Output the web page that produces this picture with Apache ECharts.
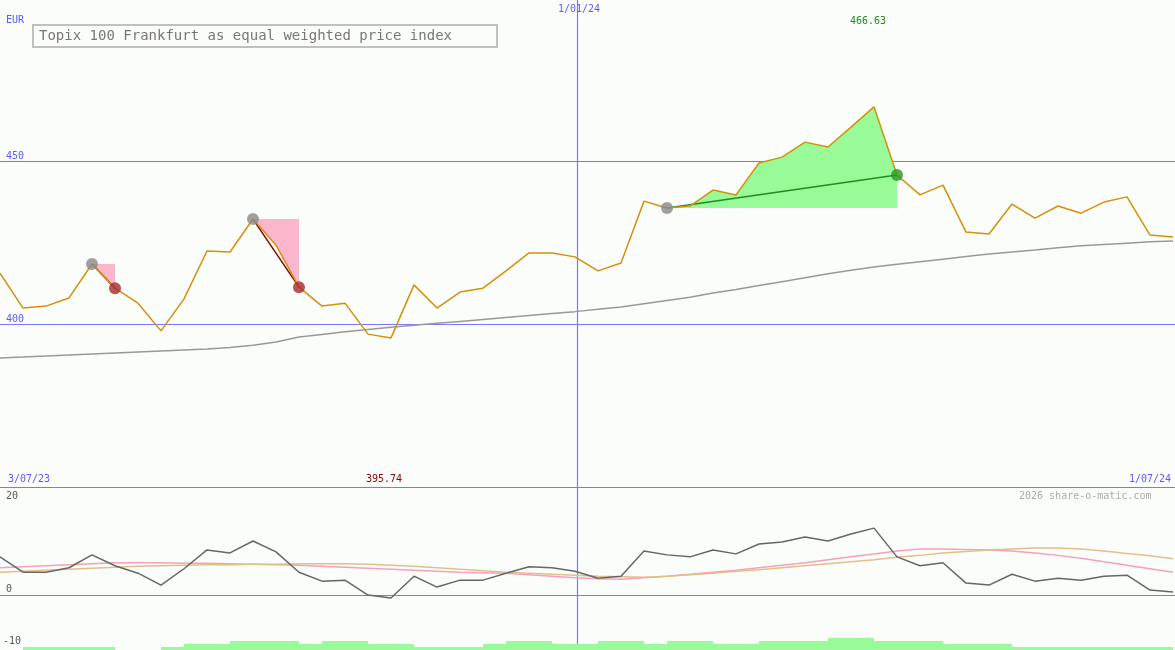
<!DOCTYPE html>
<html><head><meta charset="utf-8">
<script src="https://cdn.jsdelivr.net/npm/echarts@6/dist/echarts.min.js"></script>
<style>html,body{margin:0;padding:0;background:#fbfdfa}#c{width:1175px;height:650px}</style>
</head><body><div id="c"></div>
<script>
const price=[415.6,404.9,405.5,408,418.4,411,406.4,397.9,407.7,422.4,422.1,432.2,424.2,411.3,405.5,406.4,396.9,395.74,412,404.9,409.8,411,416.3,421.8,421.8,420.6,416.3,418.7,437.7,435.6,436.2,441.1,439.6,449.4,451.2,455.8,454.3,460.4,466.63,445.7,439.6,442.6,428.2,427.6,436.8,432.5,436.2,434,437.4,439,427.3,426.7];
const avg=[389.6,389.9,390.2,390.5,390.8,391.1,391.4,391.7,392,392.3,392.8,393.5,394.5,396,396.8,397.6,398.3,399,399.6,400.2,400.8,401.4,402,402.6,403.2,403.8,404.5,405.2,406.2,407.2,408.2,409.5,410.6,411.8,413,414.2,415.4,416.5,417.5,418.3,419.1,419.9,420.7,421.5,422.1,422.7,423.4,424,424.4,424.8,425.2,425.5];
const osc=[7.7,4.6,4.6,5.5,8.1,5.9,4.4,2,5.3,9.1,8.5,10.9,8.7,4.6,2.8,3,0,-0.6,3.8,1.6,3,3,4.4,5.7,5.5,4.8,3.4,3.8,8.9,8.1,7.7,9.1,8.3,10.3,10.7,11.7,10.9,12.3,13.5,7.7,5.9,6.5,2.4,2,4.2,2.8,3.4,3,3.8,4,1,0.6];
const pink=[5.5,5.7,5.9,6.1,6.3,6.5,6.5,6.5,6.4,6.4,6.3,6.2,6.1,6,5.8,5.6,5.4,5.2,5,4.8,4.6,4.5,4.4,4.1,3.8,3.5,3.3,3.2,3.5,3.8,4.2,4.6,5,5.5,6,6.5,7.1,7.7,8.3,8.9,9.3,9.3,9.2,9.1,8.9,8.5,8,7.4,6.7,6,5.3,4.6];
const tan=[4.6,4.8,5,5.2,5.4,5.6,5.8,5.9,6,6.1,6.1,6.2,6.2,6.3,6.3,6.3,6.2,6,5.8,5.5,5.2,4.9,4.6,4.4,4.2,4,3.8,3.7,3.6,3.8,4.1,4.4,4.8,5.1,5.5,5.9,6.3,6.7,7.1,7.6,8,8.5,8.8,9.1,9.3,9.5,9.5,9.3,8.9,8.4,7.9,7.3];
const vol=[0,1,1,1,1,0,0,1,2,2,3,3,3,2,3,3,2,2,1,1,1,2,3,3,2,2,3,3,2,3,3,2,2,3,3,3,4,4,3,3,3,2,2,2,1,1,1,1,1,1,1];
const cats=price.map((_,i)=>i);
function zoneSeries(i0,i1,lvl,color,down){
  const base=cats.map(()=>null), diff=cats.map(()=>null);
  for(let i=i0;i<=i1;i++){
    if(down){base[i]=price[i];diff[i]=lvl-price[i];}
    else{base[i]=lvl;diff[i]=price[i]-lvl;}
  }
  const st='z'+i0;
  return [
    {type:'line',data:base,stack:st,symbol:'none',lineStyle:{opacity:0},silent:true},
    {type:'line',data:diff,stack:st,symbol:'none',lineStyle:{opacity:0},areaStyle:{color:color,opacity:1},silent:true}
  ];
}
function seg(i0,i1,color){
  const d=cats.map(()=>null);d[i0]=price[i0];d[i1]=price[i1];
  return {type:'line',data:d,connectNulls:true,symbol:'none',lineStyle:{color:color,width:1.5},z:4};
}
function dot(i,color){
  return {type:'scatter',data:[[i,price[i]]],symbolSize:12,itemStyle:{color:color},z:6};
}
const blue='#5a5aff';
const lineBlue='#7878ff';
function hline(y){return {type:'line',shape:{x1:0,y1:y,x2:1175,y2:y},style:{stroke:lineBlue,lineWidth:1.2},z:-1};}
const chart=echarts.init(document.getElementById('c'));
chart.setOption({
  backgroundColor:'#fbfdfa',animation:false,
  grid:[{left:0,width:1173,top:0,height:487},{left:0,width:1173,top:487,height:163},{left:0,width:1173,top:638,height:12}],
  xAxis:[
    {type:'category',data:cats,boundaryGap:false,gridIndex:0,show:false},
    {type:'category',data:cats,boundaryGap:false,gridIndex:1,show:false},
    {type:'category',data:vol.map((_,i)=>i),boundaryGap:true,gridIndex:2,show:false}
  ],
  yAxis:[
    {type:'value',min:350,max:499.4,gridIndex:0,show:false},
    {type:'value',min:-11.1,max:21.8,gridIndex:1,show:false},
    {type:'value',min:0,max:4,gridIndex:2,show:false}
  ],
  series:[
    ...zoneSeries(4,5,418.4,'#fbb6cc',true),
    ...zoneSeries(11,13,432.2,'#fbb6cc',true),
    ...zoneSeries(29,39,435.6,'#98fb98',false),
    {type:'line',data:avg,symbol:'none',lineStyle:{color:'#999',width:1.5},z:3},
    {type:'line',data:price,symbol:'none',lineStyle:{color:'#d4900a',width:1.5},z:5},
    seg(4,5,'#8b0000'),seg(11,13,'#8b0000'),seg(29,39,'#228b22'),
    dot(4,'#888'),dot(5,'#a52a2a'),dot(11,'#888'),dot(13,'#a52a2a'),dot(29,'#888'),dot(39,'#229922'),
    {type:'line',xAxisIndex:1,yAxisIndex:1,data:pink,symbol:'none',lineStyle:{color:'#f8a0b8',width:1.5}},
    {type:'line',xAxisIndex:1,yAxisIndex:1,data:tan,symbol:'none',lineStyle:{color:'#dfc08a',width:1.5}},
    {type:'line',xAxisIndex:1,yAxisIndex:1,data:osc,symbol:'none',lineStyle:{color:'#666',width:1.5}},
    {type:'bar',xAxisIndex:2,yAxisIndex:2,data:vol,barWidth:'100%',barCategoryGap:0,itemStyle:{color:'#98fb98'}}
  ],
  graphic:[
    hline(161.5),hline(324.5),hline(487.5),hline(595.5),
    {type:'line',shape:{x1:577.5,y1:0,x2:577.5,y2:650},style:{stroke:lineBlue,lineWidth:1.2},z:-1},
    {type:'rect',shape:{x:33,y:25,width:464,height:22},style:{fill:'#fbfdfa',stroke:'#c0c0c0',lineWidth:2}},
    {type:'text',x:39,y:29,style:{text:'Topix 100 Frankfurt as equal weighted price index',fill:'#777',font:'14px "DejaVu Sans Mono"'}},
    {type:'text',x:6,y:15,style:{text:'EUR',fill:blue,font:'10px "DejaVu Sans Mono"'}},
    {type:'text',x:558,y:4,style:{text:'1/01/24',fill:blue,font:'10px "DejaVu Sans Mono"'}},
    {type:'text',x:850,y:16,style:{text:'466.63',fill:'#228b22',font:'10px "DejaVu Sans Mono"'}},
    {type:'text',x:6,y:151,style:{text:'450',fill:blue,font:'10px "DejaVu Sans Mono"'}},
    {type:'text',x:6,y:314,style:{text:'400',fill:blue,font:'10px "DejaVu Sans Mono"'}},
    {type:'text',x:8,y:474,style:{text:'3/07/23',fill:blue,font:'10px "DejaVu Sans Mono"'}},
    {type:'text',x:366,y:474,style:{text:'395.74',fill:'#8b0000',font:'10px "DejaVu Sans Mono"'}},
    {type:'text',x:1129,y:474,style:{text:'1/07/24',fill:blue,font:'10px "DejaVu Sans Mono"'}},
    {type:'text',x:1019,y:491,style:{text:'2026 share-o-matic.com',fill:'#aaa',font:'10px "DejaVu Sans Mono"'}},
    {type:'text',x:6,y:491,style:{text:'20',fill:'#555',font:'10px "DejaVu Sans Mono"'}},
    {type:'text',x:6,y:584,style:{text:'0',fill:'#555',font:'10px "DejaVu Sans Mono"'}},
    {type:'text',x:3,y:636,style:{text:'-10',fill:'#555',font:'10px "DejaVu Sans Mono"'}}
  ]
});
</script></body></html>
